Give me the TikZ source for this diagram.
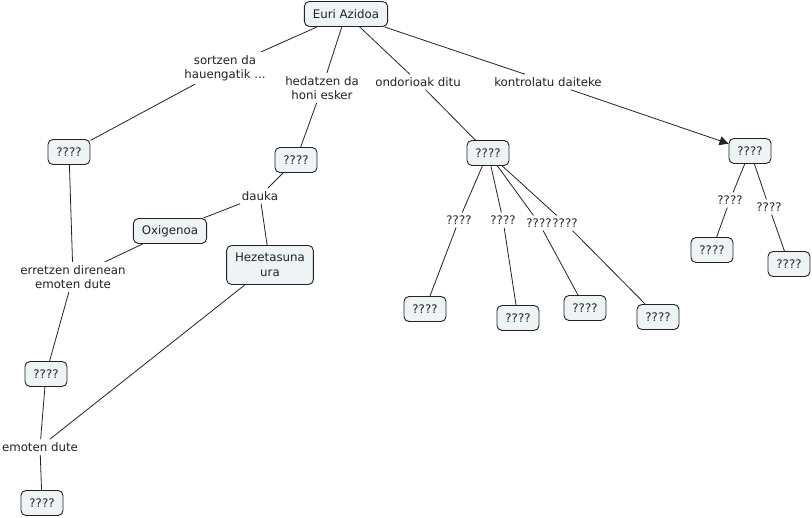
\documentclass[tikz,border=0pt]{standalone}
\usepackage{fontspec}
\setmainfont{DejaVu Sans}
\usetikzlibrary{arrows.meta}
\definecolor{boxfill}{HTML}{EEF3F5}
\definecolor{inkgray}{HTML}{222222}
\begin{document}
\begin{tikzpicture}[x=1pt,y=-1pt,
    concept/.style={draw=inkgray,fill=boxfill,rounded corners=5pt,line width=0.9pt,
      inner xsep=8.5pt,inner ysep=4pt,minimum height=25pt,align=center,
      font=\fontsize{11.8}{14.5}\selectfont,text=inkgray},
    link/.style={inner sep=3pt,align=center,font=\fontsize{11.8}{14.5}\selectfont,text=inkgray},
    conn/.style={draw=inkgray,line width=0.8pt}]
  \useasboundingbox (0,0) rectangle (812,518);
  % concepts
  \node[concept] (euri) at (346,14) {Euri Azidoa};
  \node[concept] (sortu) at (69,152) {????};
  \node[concept] (hedatu) at (296,160) {????};
  \node[concept] (oxig) at (170,231) {Oxigenoa};
  \node[concept,minimum height=39pt] (heze) at (270,265) {Hezetasuna\\ura};
  \node[concept] (erre) at (46,374) {????};
  \node[concept] (eman) at (42,503) {????};
  \node[concept] (ondo) at (488,153) {????};
  \node[concept] (ondoA) at (425,309) {????};
  \node[concept] (ondoB) at (518,318) {????};
  \node[concept] (ondoC) at (585,308) {????};
  \node[concept] (ondoD) at (658,317) {????};
  \node[concept] (kontr) at (750,151) {????};
  \node[concept] (kontrA) at (712,250) {????};
  \node[concept] (kontrB) at (789,264) {????};
  % linking phrases
  \node[link] (lsortu) at (225,68) {sortzen da\\hauengatik ...};
  \node[link] (lhedatu) at (322,88) {hedatzen da\\honi esker};
  \node[link] (londo) at (418,82) {ondorioak ditu};
  \node[link] (lkontr) at (548,82) {kontrolatu daiteke};
  \node[link] (ldauka) at (260,196) {dauka};
  \node[link] (lerre) at (73,277) {erretzen direnean\\emoten dute};
  \node[link] (leman) at (40,447) {emoten dute};
  \node[link] (lA) at (459,220) {????};
  \node[link] (lB) at (503,220) {????};
  \node[link] (lC) at (539,223) {????};
  \node[link] (lD) at (565,223) {????};
  \node[link] (lkA) at (730,200) {????};
  \node[link] (lkB) at (769,207) {????};
  % connectors
  \foreach \a/\b in {euri/lsortu,lsortu/sortu,euri/lhedatu,lhedatu/hedatu,
      euri/londo,londo/ondo,euri/lkontr,hedatu/ldauka,ldauka/oxig,ldauka/heze,
      sortu/lerre,oxig/lerre,lerre/erre,erre/leman,heze/leman,leman/eman,
      ondo/lA,lA/ondoA,ondo/lB,lB/ondoB,ondo/lC,lC/ondoC,ondo/lD,lD/ondoD,
      kontr/lkA,lkA/kontrA,kontr/lkB,lkB/kontrB}
    \draw[conn] (\a) -- (\b);
  \draw[conn,-{Triangle[length=9pt,width=9pt]}] (lkontr) -- (kontr);
\end{tikzpicture}
\end{document}
